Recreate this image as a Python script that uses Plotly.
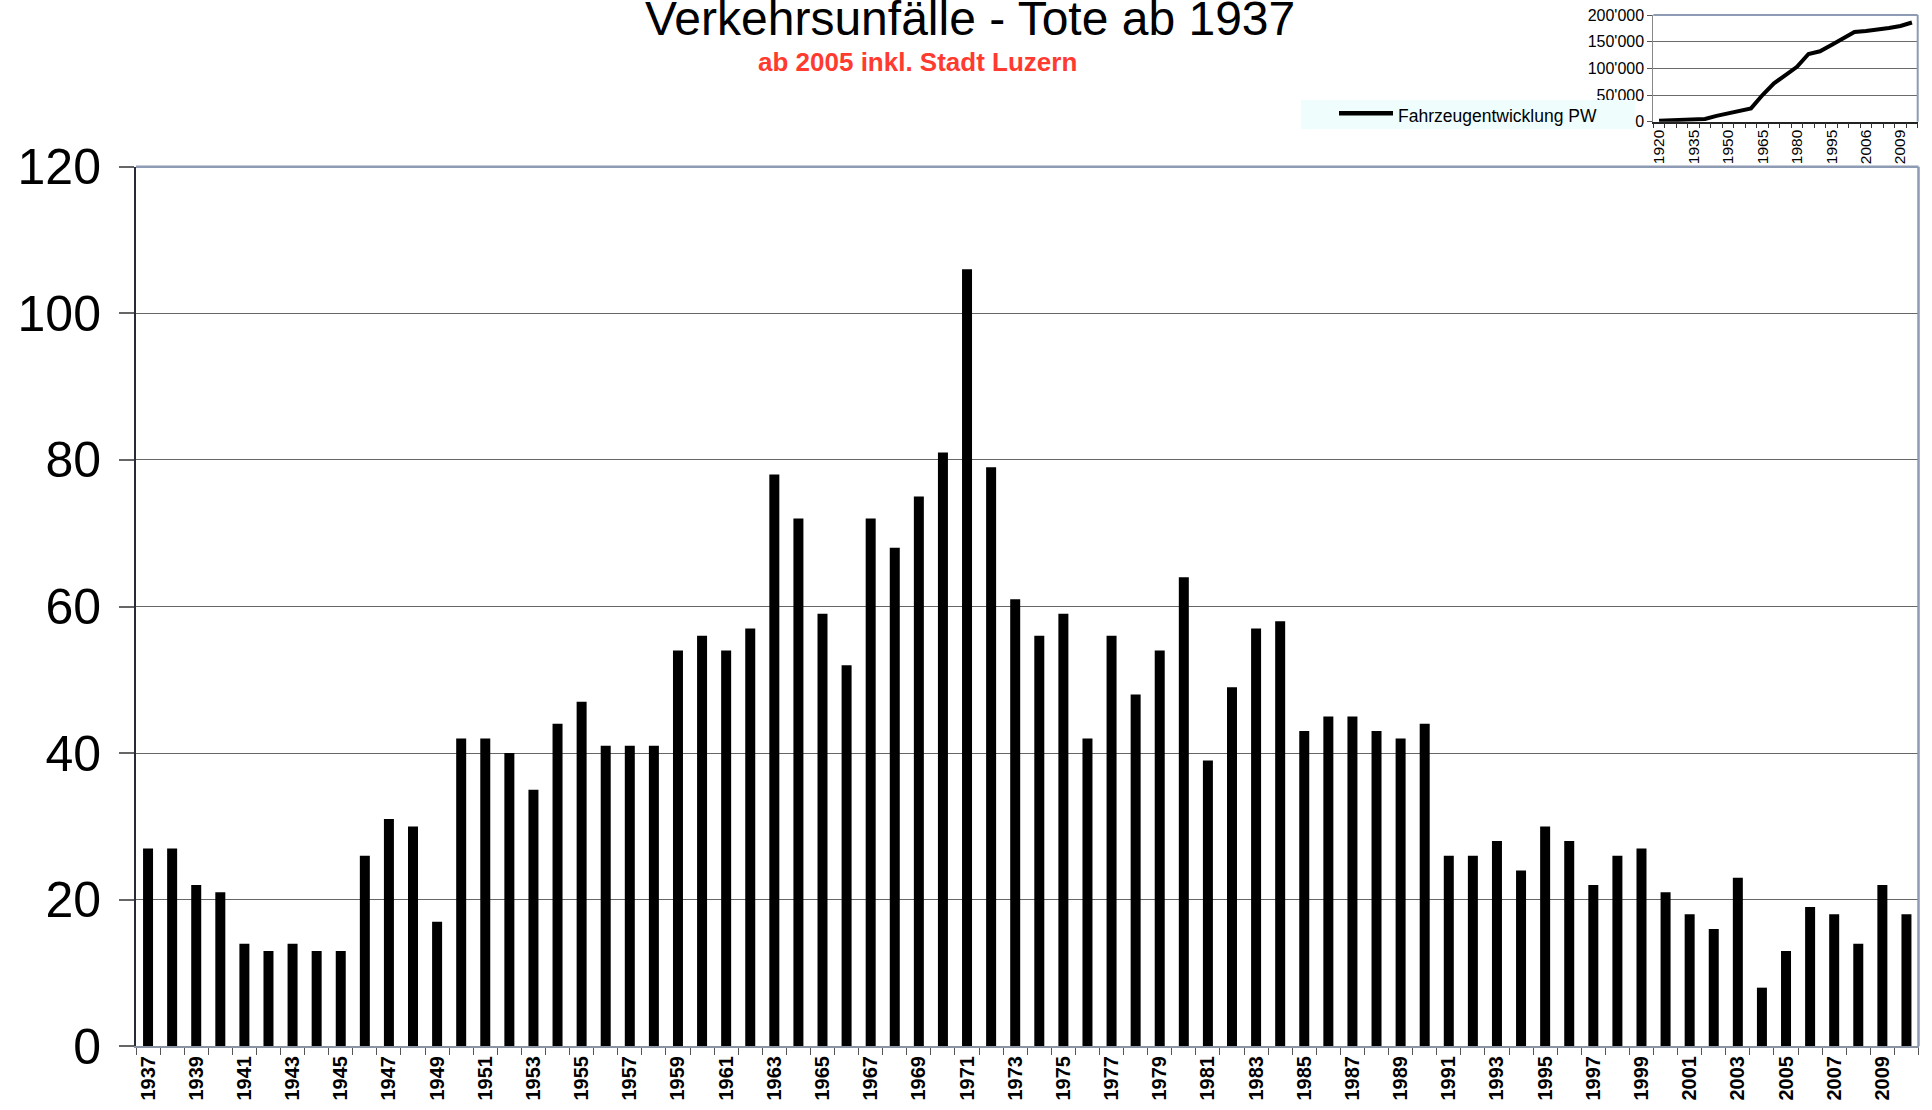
import plotly.graph_objects as go

W, H = 1932, 1110
FONT = "Liberation Sans, Arial, Helvetica, sans-serif"

# ---- main chart data: road deaths per year ----
years = [str(y) for y in range(1937, 2011)]
deaths = [27, 27, 22, 21, 14, 13, 14, 13, 13, 26,
          31, 30, 17, 42, 42, 40, 35, 44, 47, 41,
          41, 41, 54, 56, 54, 57, 78, 72, 59, 52,
          72, 68, 75, 81, 106, 79, 61, 56, 59, 42,
          56, 48, 54, 64, 39, 49, 57, 58, 43, 45,
          45, 43, 42, 44, 26, 26, 28, 24, 30, 28,
          22, 26, 27, 21, 18, 16, 23, 8, 13, 19,
          18, 14, 22, 18]
year_labels = [y if (int(y) - 1937) % 2 == 0 else "" for y in years]
y_ticks = [0, 20, 40, 60, 80, 100, 120]

# ---- inset data: passenger car fleet ----
inset_years = ["1920", "1925", "1930", "1935", "1940", "1945", "1950", "1955",
               "1960", "1965", "1970", "1975", "1980", "1985", "1990", "1995",
               "2000", "2005", "2006", "2007", "2008", "2009", "2010"]
inset_values = [1900, 2500, 3100, 4400, 5000, 11000, 16000, 20600,
                25000, 50000, 72000, 87500, 103000, 127000, 132000, 144000,
                156000, 168000, 170000, 172500, 175600, 179400, 186000]
inset_labels = [y if i % 3 == 0 else "" for i, y in enumerate(inset_years)]
inset_y_ticks = [0, 50000, 100000, 150000, 200000]

TITLE = "Verkehrsunfälle - Tote ab 1937"
SUBTITLE = "ab 2005 inkl. Stadt Luzern"
LEGEND_TEXT = "Fahrzeugentwicklung PW"


def px_x(p):
    return p / W


def px_y(p):
    return 1 - p / H


fig = go.Figure()
fig.add_trace(go.Bar(
    x=years, y=deaths, xaxis="x", yaxis="y",
    marker=dict(color="black", line=dict(width=0)),
    showlegend=False, name="Tote",
))
fig.add_trace(go.Scatter(
    x=inset_years, y=inset_values, xaxis="x2", yaxis="y2",
    mode="lines", line=dict(color="black", width=4),
    showlegend=False, name=LEGEND_TEXT,
))

BORDER = "#8e9bb4"

fig.update_layout(
    width=W, height=H,
    margin=dict(l=0, r=0, t=0, b=0, pad=0),
    paper_bgcolor="white", plot_bgcolor="white",
    font=dict(family=FONT, color="black"),
    separators=".'",
    bargap=0.585,
    showlegend=False,
    xaxis=dict(
        domain=[px_x(136), px_x(1918.5)], anchor="y", type="category",
        range=[-0.5, len(years) - 0.5],
        tickson="boundaries", ticks="outside", ticklen=7, tickwidth=1,
        tickcolor="#555", tickvals=years, ticktext=year_labels,
        tickangle=-90, tickfont=dict(size=20, weight="bold", family=FONT),
        showline=True, linecolor="#8a93a3", linewidth=1.5,
        showgrid=False, zeroline=False, automargin=False,
    ),
    yaxis=dict(
        domain=[px_y(1046.3), px_y(166.7)], anchor="x",
        range=[0, 120], tickvals=y_ticks,
        ticks="outside", ticklen=15, tickcolor="#666", tickwidth=1.5,
        tickfont=dict(size=50, family=FONT), ticklabelstandoff=8,
        showgrid=True, gridcolor="#666", gridwidth=1,
        showline=True, linecolor="#252b38", linewidth=2,
        zeroline=False, automargin=False,
    ),
    xaxis2=dict(
        domain=[px_x(1653.3), px_x(1917.7)], anchor="y2", type="category",
        range=[-0.5, len(inset_years) - 0.5],
        tickson="boundaries", ticks="outside", ticklen=5, tickwidth=1,
        tickcolor="#333", tickvals=inset_years, ticktext=inset_labels,
        tickangle=-90, tickfont=dict(size=15.5, family=FONT),
        showline=True, linecolor="#222", linewidth=1.5,
        showgrid=False, zeroline=False, automargin=False,
    ),
    yaxis2=dict(
        domain=[px_y(121.7), px_y(15)], anchor="x2",
        range=[0, 200000], tickvals=inset_y_ticks, tickformat=",d",
        ticks="outside", ticklen=5, tickcolor="#555", tickwidth=1,
        tickfont=dict(size=16, family=FONT),
        showgrid=True, gridcolor="#6a6a6a", gridwidth=1,
        showline=True, linecolor="#888", linewidth=1,
        zeroline=False, automargin=False,
    ),
)

shapes = [
    # main plot area hides the bottom of the inset's labels
    dict(type="rect", xref="paper", yref="paper", layer="above",
         x0=px_x(1600), x1=px_x(1916), y0=px_y(200), y1=px_y(168),
         fillcolor="white", line=dict(width=0)),
    # main plot border top / right
    dict(type="line", xref="x domain", yref="y domain", layer="above",
         x0=0, x1=1, y0=1, y1=1, line=dict(color=BORDER, width=2.5)),
    dict(type="line", xref="x domain", yref="y domain", layer="above",
         x0=1, x1=1, y0=0, y1=1, line=dict(color=BORDER, width=2.5)),
    # inset border top / right
    dict(type="line", xref="x2 domain", yref="y2 domain", layer="above",
         x0=0, x1=1, y0=1, y1=1, line=dict(color=BORDER, width=2)),
    dict(type="line", xref="x2 domain", yref="y2 domain", layer="above",
         x0=1, x1=1, y0=0, y1=1, line=dict(color=BORDER, width=2)),
    # legend box
    dict(type="rect", xref="paper", yref="paper", layer="above",
         x0=px_x(1301), x1=px_x(1635), y0=px_y(129.3), y1=px_y(100),
         fillcolor="#effdfd", line=dict(width=0)),
    dict(type="line", xref="paper", yref="paper", layer="above",
         x0=px_x(1339), x1=px_x(1393), y0=px_y(113.3), y1=px_y(113.3),
         line=dict(color="black", width=4.5)),
]

annotations = [
    dict(text=TITLE, xref="paper", yref="paper", x=px_x(970), y=px_y(18.5),
         xanchor="center", yanchor="middle", showarrow=False,
         font=dict(size=48, family=FONT, color="black")),
    dict(text=SUBTITLE, xref="paper", yref="paper", x=px_x(917), y=px_y(61.6),
         xanchor="center", yanchor="middle", showarrow=False,
         font=dict(size=26, family=FONT, color="#ff3b30", weight="bold")),
    dict(text=LEGEND_TEXT, xref="paper", yref="paper", x=px_x(1396), y=px_y(115.6),
         xanchor="left", yanchor="middle", showarrow=False,
         font=dict(size=17.5, family=FONT, color="black")),
]

fig.update_layout(shapes=shapes, annotations=annotations)

fig.write_html(
    "out.html",
    config={"displayModeBar": False},
    post_script="document.body.style.margin='0';document.body.style.overflow='hidden';",
)
